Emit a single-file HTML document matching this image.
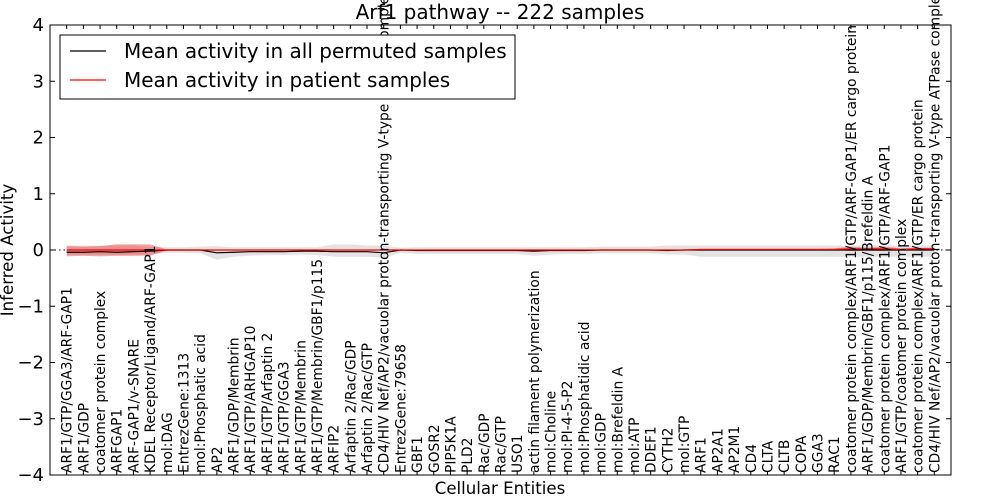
<!DOCTYPE html>
<html><head><meta charset="utf-8"><style>
body{margin:0;background:#fff;}
svg{display:block;font-family:"DejaVu Sans","Liberation Sans",sans-serif;}
</style></head><body>
<svg id="chart" width="1000" height="500"></svg>
<script>
const categories=["ARF1/GTP/GGA3/ARF-GAP1","ARF1/GDP","coatomer protein complex","ARFGAP1","ARF-GAP1/v-SNARE","KDEL Receptor/Ligand/ARF-GAP1","mol:DAG","EntrezGene:1313","mol:Phosphatic acid","AP2","ARF1/GDP/Membrin","ARF1/GTP/ARHGAP10","ARF1/GTP/Arfaptin 2","ARF1/GTP/GGA3","ARF1/GTP/Membrin","ARF1/GTP/Membrin/GBF1/p115","ARFIP2","Arfaptin 2/Rac/GDP","Arfaptin 2/Rac/GTP","CD4/HIV Nef/AP2/vacuolar proton-transporting V-type ATPase complex","EntrezGene:79658","GBF1","GOSR2","PIP5K1A","PLD2","Rac/GDP","Rac/GTP","USO1","actin filament polymerization","mol:Choline","mol:PI-4-5-P2","mol:Phosphatidic acid","mol:GDP","mol:Brefeldin A","mol:ATP","DDEF1","CYTH2","mol:GTP","ARF1","AP2A1","AP2M1","CD4","CLTA","CLTB","COPA","GGA3","RAC1","coatomer protein complex/ARF1/GTP/ARF-GAP1/ER cargo protein","ARF1/GDP/Membrin/GBF1/p115/Brefeldin A","coatomer protein complex/ARF1/GTP/ARF-GAP1","ARF1/GTP/coatomer protein complex","coatomer protein complex/ARF1/GTP/ER cargo protein","CD4/HIV Nef/AP2/vacuolar proton-transporting V-type ATPase complex"];
const permMean=[-0.04,-0.04,-0.03,-0.04,-0.03,-0.02,0,0,0,-0.05,-0.04,-0.03,-0.03,-0.03,-0.02,-0.02,-0.03,-0.03,-0.03,-0.05,0,-0.01,-0.01,-0.01,-0.01,-0.01,-0.01,-0.01,-0.02,-0.01,-0.01,-0.01,0,0,0,0,-0.01,0,0,0,0,0,0,0,0,0,0,0,0,0,0,0,0];
const permUpper=[0.08,0.08,0.08,0.08,0.08,0.06,0.05,0.05,0.06,0.07,0.05,0.05,0.05,0.05,0.05,0.05,0.1,0.1,0.08,0.08,0.04,0.05,0.05,0.05,0.05,0.05,0.05,0.05,0.05,0.05,0.05,0.05,0.06,0.06,0.06,0.06,0.08,0.08,0.08,0.08,0.08,0.08,0.08,0.08,0.08,0.08,0.08,0.08,0.08,0.08,0.08,0.08,0.08];
const permLower=[-0.12,-0.1,-0.12,-0.1,-0.1,-0.08,-0.05,-0.05,-0.06,-0.17,-0.12,-0.1,-0.09,-0.09,-0.08,-0.09,-0.12,-0.12,-0.12,-0.14,-0.05,-0.07,-0.07,-0.07,-0.07,-0.07,-0.07,-0.07,-0.1,-0.08,-0.07,-0.07,-0.06,-0.06,-0.06,-0.06,-0.08,-0.08,-0.12,-0.12,-0.12,-0.12,-0.12,-0.12,-0.12,-0.12,-0.12,-0.12,-0.12,-0.12,-0.12,-0.12,-0.12];
const patientMean=[0,0,0,0,0,0,0,0,0,0,0,0,0,0,0,0,0,0,0,0,0,0,0,0,0,0,0,0,0,0,0,0,0,0,0,0,0,0,0.01,0.01,0.01,0.01,0.01,0.01,0.01,0.01,0.01,0.02,0.02,0.02,0.01,0.02,0.02];
const patientUpper=[0.07,0.06,0.07,0.1,0.1,0.1,0.01,0.01,0.01,0.01,0.01,0.01,0.01,0.01,0.01,0.01,0.01,0.01,0.01,0.01,0.01,0.01,0.01,0.01,0.01,0.01,0.01,0.01,0.01,0.01,0.01,0.01,0.01,0.01,0.01,0.01,0.01,0.01,0.02,0.02,0.02,0.02,0.02,0.02,0.02,0.02,0.03,0.06,0.04,0.06,0.03,0.04,0.04];
const patientLower=[-0.1,-0.1,-0.1,-0.1,-0.1,-0.1,-0.01,-0.01,-0.01,-0.01,-0.01,-0.01,-0.01,-0.01,-0.01,-0.01,-0.01,-0.01,-0.01,-0.01,-0.01,-0.01,-0.01,-0.01,-0.01,-0.01,-0.01,-0.01,-0.01,-0.01,-0.01,-0.01,-0.01,-0.01,-0.01,-0.01,-0.01,-0.01,0,0,0,0,0,0,0,0,0,-0.02,-0.01,-0.02,0,0,0];
const yTicks=[-4,-3,-2,-1,0,1,2,3,4];

const svg=document.getElementById('chart');
const NS='http://www.w3.org/2000/svg';
const L=50,R=951,T=25,B=475;
const xs=i=>L+(i+1)*(R-L)/(categories.length+1);
const ys=v=>B-(v+4)*(B-T)/8;
function mk(tag,attrs,parent){const e=document.createElementNS(NS,tag);for(const k in attrs)e.setAttribute(k,attrs[k]);(parent||svg).appendChild(e);return e;}
function band(up,lo,fill,op,name){
  let d='M'+up.map((v,i)=>xs(i)+','+ys(v)).join('L');
  for(let i=lo.length-1;i>=0;i--)d+='L'+xs(i)+','+ys(lo[i]);
  const p=mk('path',{d:d+'Z',fill:fill,'fill-opacity':op,stroke:'none'});
  
  
}
function line(arr,color,name){
  const p=mk('polyline',{points:arr.map((v,i)=>xs(i)+','+ys(v)).join(' '),fill:'none',stroke:color,'stroke-width':1.2});
  
  
}
band(permUpper,permLower,'#d0d0d0',0.6,'permuted-band');
band(patientUpper,patientLower,'#f03030',0.45,'patient-band');
line(permMean,'#000','permuted-mean-line');
const z=mk('line',{x1:L,x2:R,y1:ys(0),y2:ys(0),stroke:'#000','stroke-dasharray':'1.5,3','stroke-width':1});


line(patientMean,'#f00','patient-mean-line');
const fr=mk('rect',{x:L,y:T,width:R-L,height:B-T,fill:'none',stroke:'#000','stroke-width':1});


yTicks.forEach(t=>{
  mk('line',{x1:L,x2:L+5,y1:ys(t),y2:ys(t),stroke:'#000'});
  mk('line',{x1:R-5,x2:R,y1:ys(t),y2:ys(t),stroke:'#000'});
  const tx=mk('text',{x:L-6,y:ys(t)+6,'text-anchor':'end','font-size':18});
  tx.textContent=(t<0?'\u2212'+(-t):t);
  
  
});
categories.forEach((c,i)=>{
  const x=xs(i);
  mk('line',{x1:x,x2:x,y1:B,y2:B-4,stroke:'#000'});
  mk('line',{x1:x,x2:x,y1:T,y2:T+4,stroke:'#000'});
  const tx=mk('text',{x:0,y:0,'font-size':13.8,'text-anchor':'start',transform:'translate('+(x+5)+','+(B-2)+') rotate(-90)'});
  tx.textContent=c;
  
  
});
const t1=mk('text',{x:500,y:19,'text-anchor':'middle','font-size':20});t1.textContent='Arf1 pathway -- 222 samples';


const t2=mk('text',{x:500,y:494,'text-anchor':'middle','font-size':16.6});t2.textContent='Cellular Entities';


const t3=mk('text',{x:0,y:0,'text-anchor':'middle','font-size':16.6,transform:'translate(13,250) rotate(-90)'});t3.textContent='Inferred Activity';


const g=mk('g',{});


mk('rect',{x:60,y:35,width:455,height:64,fill:'#fff',stroke:'#000'},g);
mk('line',{x1:70,x2:106,y1:51,y2:51,stroke:'#000','stroke-width':1.2},g);
mk('line',{x1:70,x2:106,y1:80,y2:80,stroke:'#f00','stroke-width':1.2},g);
const l1=mk('text',{x:124,y:58,'font-size':20},g);l1.textContent='Mean activity in all permuted samples';


const l2=mk('text',{x:124,y:87,'font-size':20},g);l2.textContent='Mean activity in patient samples';


</script>
</body></html>
